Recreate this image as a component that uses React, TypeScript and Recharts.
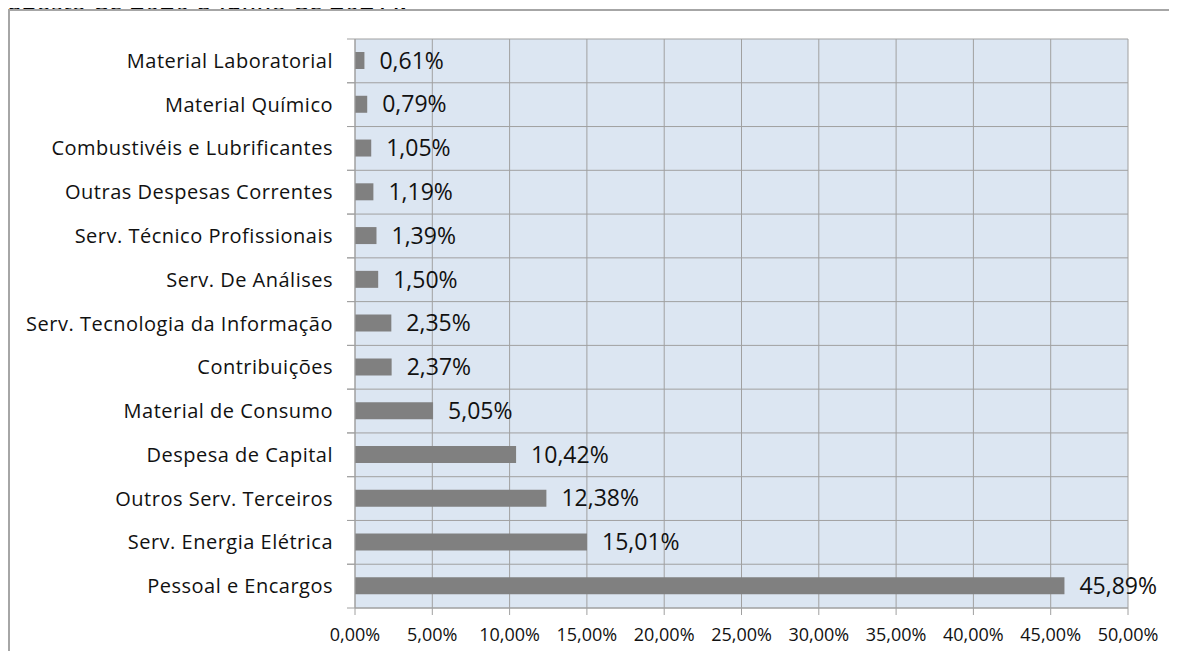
import React from "react"
import { BarChart, Bar, XAxis, YAxis, CartesianGrid, LabelList } from "recharts"

const categories = [
  "Material Laboratorial",
  "Material Químico",
  "Combustivéis e Lubrificantes",
  "Outras Despesas Correntes",
  "Serv. Técnico Profissionais",
  "Serv. De Análises",
  "Serv. Tecnologia da Informação",
  "Contribuições",
  "Material de Consumo",
  "Despesa de Capital",
  "Outros Serv. Terceiros",
  "Serv. Energia Elétrica",
  "Pessoal e Encargos",
]

const shares = [0.61, 0.79, 1.05, 1.19, 1.39, 1.5, 2.35, 2.37, 5.05, 10.42, 12.38, 15.01, 45.89]

const xTicks = [0, 5, 10, 15, 20, 25, 30, 35, 40, 45, 50]

const titleTail = "agosto de 2020 a junho de 2021)."

const data = categories.map((name, i) => ({ name, value: shares[i] }))

const W = 1177
const H = 659
const MARGIN = { top: 39, right: 49, bottom: 21, left: 0 }
const X_AXIS_H = 30
const Y_AXIS_W = 355
const GRID = "#a0a0a0"
const FRAME = "#a6a6a6"
const FONT = "'Open Sans', sans-serif"

const pct = (v: number) => v.toFixed(2).replace(".", ",") + "%"

const plotHeight = H - MARGIN.top - MARGIN.bottom - X_AXIS_H
const band = plotHeight / categories.length

function CategoryTick(props: any) {
  const { x, y, payload } = props
  return (
    <g>
      <line x1={Y_AXIS_W - 8} x2={Y_AXIS_W} y1={y - band / 2} y2={y - band / 2} stroke={GRID} />
      <line x1={Y_AXIS_W - 8} x2={Y_AXIS_W} y1={y + band / 2} y2={y + band / 2} stroke={GRID} />
      <text x={x} y={y} dy="0.35em" textAnchor="end" fontSize={20} letterSpacing={0.5} fill="#111" fontFamily={FONT}>
        {payload.value}
      </text>
    </g>
  )
}

export default function App() {
  return (
    <div style={{ position: "relative", width: W, height: H, margin: -8, overflow: "hidden", background: "#fff" }}>
      <svg width={W} height={10} style={{ position: "absolute", left: 0, top: 0, display: "block" }}>
        <text x={8} y={10} fontSize={30} fontFamily="'Liberation Serif', 'Times New Roman', serif" fill="#000">
          {titleTail}
        </text>
      </svg>
      <div style={{ position: "absolute", left: 8, top: 9, width: W, height: 2, background: FRAME }} />
      <div style={{ position: "absolute", left: 8, top: 9, width: 2, height: H, background: FRAME }} />
      <div style={{ position: "absolute", left: 0, top: 0 }}>
        <BarChart width={W} height={H} data={data} layout="vertical" margin={MARGIN} barSize={17} style={{ fontFamily: FONT }}>
          <CartesianGrid
            fill="#dce6f2"
            stroke={GRID}
            horizontalCoordinatesGenerator={({ offset }: any) =>
              categories.map((_, i) => offset.top + (i * offset.height) / categories.length).concat(offset.top + offset.height)
            }
          />
          <XAxis
            type="number"
            domain={[0, 50]}
            ticks={xTicks}
            tickFormatter={pct}
            height={X_AXIS_H}
            tickSize={7}
            tickMargin={13}
            stroke={GRID}
            tick={{ fill: "#111", fontSize: 18, fontFamily: FONT }}
            interval={0}
          />
          <YAxis
            type="category"
            dataKey="name"
            width={Y_AXIS_W}
            tickLine={false}
            tickSize={8}
            tickMargin={14}
            stroke={GRID}
            interval={0}
            tick={<CategoryTick />}
          />
          <Bar dataKey="value" fill="#808080" isAnimationActive={false}>
            <LabelList dataKey="value" position="right" offset={15} formatter={(v: any) => pct(Number(v))} fontSize={23} fill="#111" fontFamily={FONT} />
          </Bar>
        </BarChart>
      </div>
    </div>
  )
}
